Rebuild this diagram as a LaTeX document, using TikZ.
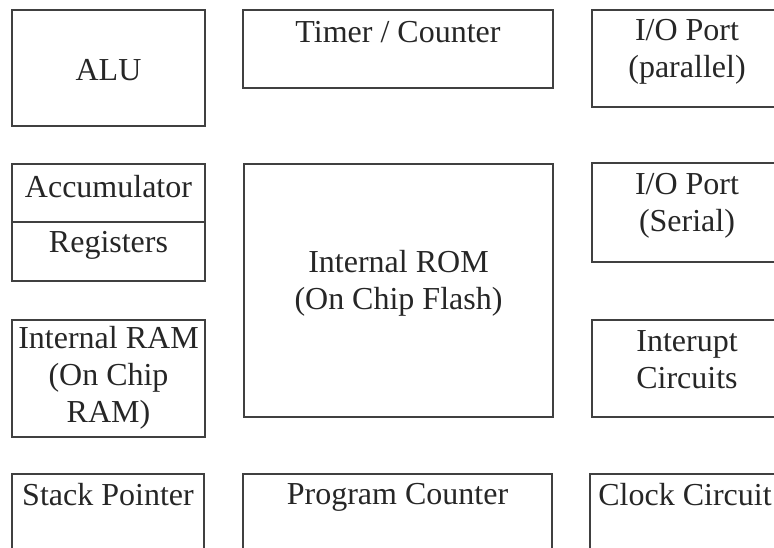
\documentclass[tikz,border=0pt]{standalone}
\usepackage{fontspec}
\setmainfont{Liberation Serif}
\definecolor{boxline}{HTML}{404040}
\definecolor{txt}{HTML}{262626}
\begin{document}
\begin{tikzpicture}[x=1pt,y=-1pt,
  blk/.style={draw=boxline, line width=2.2pt, inner sep=0pt, rectangle},
  lbl/.style={text=txt, align=center, inner sep=0pt, font=\fontsize{32}{37}\selectfont}]
\useasboundingbox (0,0) rectangle (774,548);
\clip (0,0) rectangle (774,548);
% boxes
\node[blk, minimum width=193pt, minimum height=116pt] (alu) at (108.5,68) {};
\node[blk, minimum width=310pt, minimum height=78pt] (timer) at (398,49) {};
\node[blk, minimum width=190pt, minimum height=97pt] (iopar) at (687,58.5) {};
\node[blk, minimum width=190pt, minimum height=99pt] (ioser) at (687,212.5) {};
\node[blk, minimum width=193pt, minimum height=58pt] (acc) at (108.5,193) {};
\node[blk, minimum width=193pt, minimum height=59pt] (reg) at (108.5,251.5) {};
\node[blk, minimum width=193pt, minimum height=117pt] (ram) at (108.5,378.5) {};
\node[blk, minimum width=309pt, minimum height=253pt] (rom) at (398.5,290.5) {};
\node[blk, minimum width=190pt, minimum height=97pt] (intr) at (687,368.5) {};
\node[blk, minimum width=192pt, minimum height=100pt] (sp) at (108,524) {};
\node[blk, minimum width=309pt, minimum height=100pt] (pc) at (397.5,524) {};
\node[blk, minimum width=192pt, minimum height=100pt] (clk) at (686,524) {};
% labels
\node[lbl] (talu) at (108.5,70) {ALU};
\node[lbl] (ttimer) at (398,32) {Timer / Counter};
\node[lbl] (tiopar) at (687,52) {I/O Port\\(parallel)};
\node[lbl] (tioser) at (687,206) {I/O Port\\(Serial)};
\node[lbl] (tacc) at (108.5,187) {Accumulator};
\node[lbl] (treg) at (108.5,245) {Registers};
\node[lbl] (tram) at (108.5,378) {Internal RAM\\(On Chip\\RAM)};
\node[lbl] (trom) at (398.5,283) {Internal ROM\\(On Chip Flash)};
\node[lbl] (tintr) at (687,360) {Interupt\\Circuits};
\node[lbl] (tsp) at (108,495) {Stack Pointer};
\node[lbl] (tpc) at (397.5,497) {Program Counter};
\node[lbl] (tclk) at (685,495) {Clock Circuit};
\end{tikzpicture}
\end{document}
